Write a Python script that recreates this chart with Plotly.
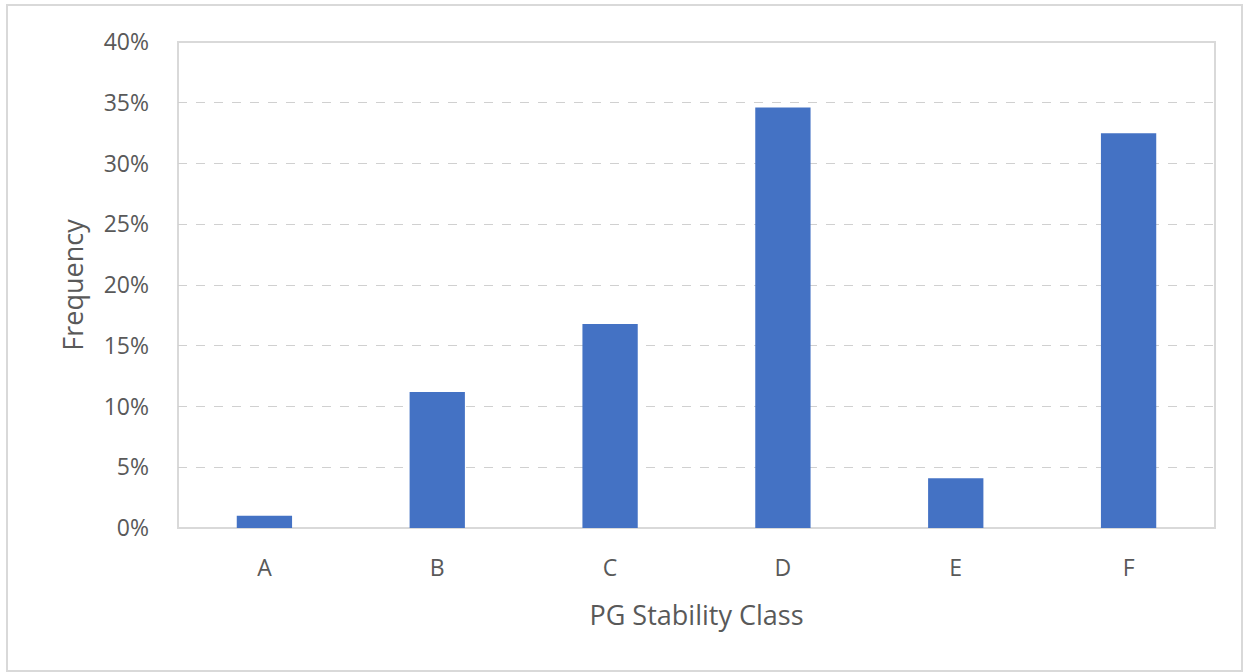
import plotly.graph_objects as go

# Pasquill-Gifford stability class frequency distribution
classes = ["A", "B", "C", "D", "E", "F"]
frequency = [0.010, 0.112, 0.168, 0.346, 0.041, 0.325]
y_ticks = [0, 0.05, 0.10, 0.15, 0.20, 0.25, 0.30, 0.35, 0.40]
y_tick_labels = ["0%", "5%", "10%", "15%", "20%", "25%", "30%", "35%", "40%"]

W, H = 1249, 672
ML, MR, MT, MB = 178, 34, 42, 144
pw, ph = W - ML - MR, H - MT - MB

font_family = "Open Sans, Noto Sans, sans-serif"
text_color = "#595959"

fig = go.Figure(
    go.Bar(
        x=classes,
        y=frequency,
        marker=dict(color="#4472C4", line=dict(width=0)),
        hoverinfo="x+y",
    )
)

# outer chart-area frame, expressed relative to the plotting area
def px_x(v):
    return (v - ML) / pw

def px_y(v):
    return 1 - (v - MT) / ph

fig.add_shape(
    type="rect", xref="paper", yref="paper",
    x0=px_x(7), x1=px_x(1242), y0=px_y(5), y1=px_y(671),
    line=dict(color="#D9D9D9", width=2), fillcolor="rgba(0,0,0,0)", layer="below",
)

# plot-area frame
fig.add_shape(
    type="rect", xref="paper", yref="paper",
    x0=0, x1=1, y0=0, y1=1,
    line=dict(color="#D9D9D9", width=2), fillcolor="rgba(0,0,0,0)", layer="below",
)

fig.update_layout(
    width=W, height=H,
    margin=dict(l=ML, r=MR, t=MT, b=MB),
    paper_bgcolor="white",
    plot_bgcolor="white",
    bargap=0.68,
    showlegend=False,
    font=dict(family=font_family, color=text_color, size=23),
    xaxis=dict(
        title=dict(text="PG Stability Class", font=dict(size=27, color=text_color), standoff=24),
        tickfont=dict(size=23, color=text_color),
        showgrid=False, showline=False, zeroline=False,
        ticks="", ticklabelstandoff=24,
    ),
    yaxis=dict(
        title=dict(text="Frequency", font=dict(size=27, color=text_color), standoff=12),
        range=[0, 0.40],
        tickvals=y_ticks, ticktext=y_tick_labels,
        tickfont=dict(size=23, color=text_color),
        showgrid=True, gridcolor="#D0D0D0", griddash="dash", gridwidth=1,
        zeroline=False, showline=False, ticks="", ticklabelstandoff=28,
    ),
)

fig.write_html("out.html")
